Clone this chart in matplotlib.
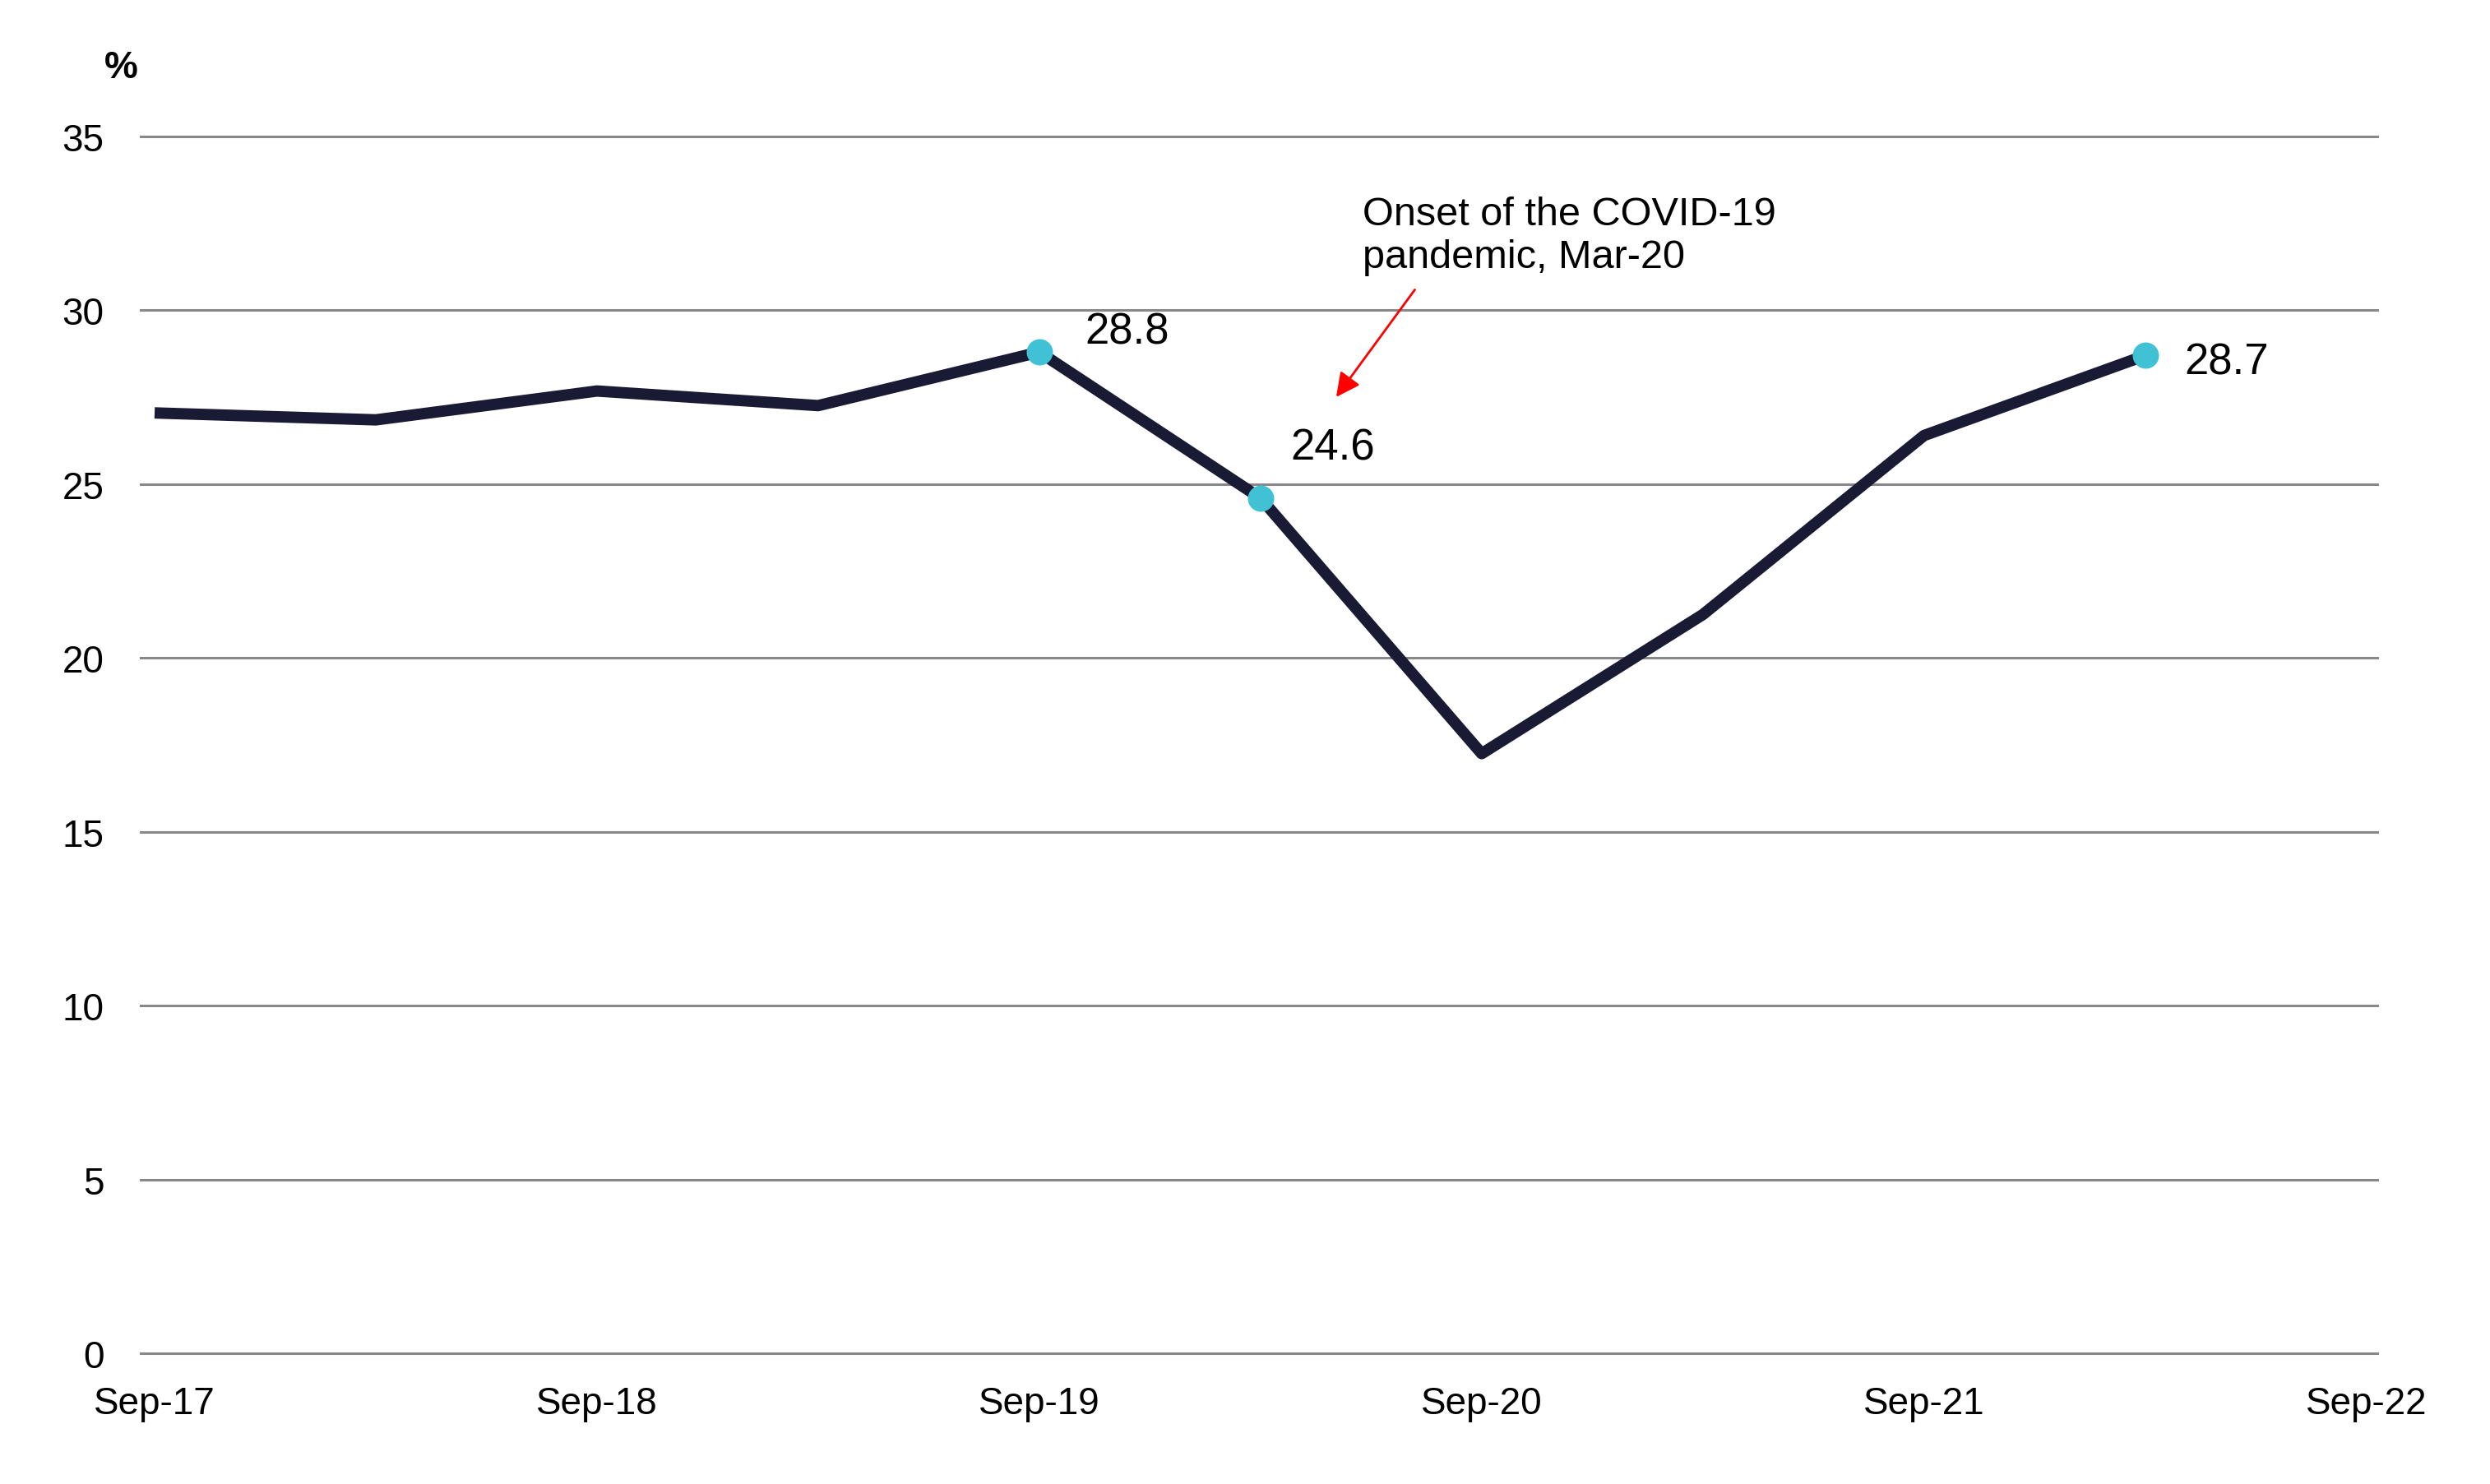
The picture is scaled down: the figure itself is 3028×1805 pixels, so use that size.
import matplotlib
matplotlib.use("Agg")
import matplotlib.pyplot as plt

plt.rcParams['font.family'] = ['Liberation Sans', 'DejaVu Sans']

# half-yearly observations, Sep-17 .. Mar-22
periods = ['Sep-17', 'Mar-18', 'Sep-18', 'Mar-19', 'Sep-19',
           'Mar-20', 'Sep-20', 'Mar-21', 'Sep-21', 'Mar-22']
values = [27.05, 26.85, 27.68, 27.26, 28.8, 24.6, 17.25, 21.25, 26.4, 28.7]
tick_labels = ['Sep-17', 'Sep-18', 'Sep-19', 'Sep-20', 'Sep-21', 'Sep-22']
yticks = [0, 5, 10, 15, 20, 25, 30, 35]
highlight = [4, 5, 9]  # points with markers and labels
label_offsets = {4: (20, 9), 5: (13, 22), 9: (17, -3)}

fig = plt.figure(figsize=(15.14, 9.03), dpi=200)
ax = fig.add_axes([0.0565, 0.088, 0.8983, 0.8195])

x = list(range(len(values)))
ax.plot(x, values, color='#191a33', lw=5.0, solid_joinstyle='round',
        solid_capstyle='butt', zorder=3)
ax.plot([x[i] for i in highlight], [values[i] for i in highlight],
        ls='none', marker='o', ms=10.5, color='#41c1d4', zorder=4)

for i in highlight:
    ax.annotate(f'{values[i]:.1f}', (x[i], values[i]), xytext=label_offsets[i],
                textcoords='offset points', ha='left', va='center', fontsize=19)

ax.annotate('Onset of the COVID-19\npandemic, Mar-20', xy=(5.36, 27.6), xytext=(5.46, 31.0),
            ha='left', va='bottom', fontsize=17.5, linespacing=1.2)
ax.annotate('', xy=(5.33, 27.4), xytext=(5.71, 30.7),
            arrowprops=dict(arrowstyle='-|>', color='red', lw=1.0, mutation_scale=22))

ax.set_xlim(-0.063, 10.05)
ax.set_ylim(0, 35)
ax.set_xticks(range(0, 11, 2))
ax.set_xticklabels(tick_labels)
ax.set_yticks(yticks)
ax.yaxis.grid(True, color='#888888', lw=1.1)
for gl in ax.get_ygridlines():
    gl.set_clip_on(False)
ax.set_axisbelow(True)
for s in ax.spines.values():
    s.set_visible(False)
ax.tick_params(axis='both', length=0, labelsize=16.5)
ax.tick_params(axis='y', pad=16)
ax.tick_params(axis='x', pad=14)

fig.text(147 / 3028, 1 - 83 / 1806, '%', ha='center', va='center',
         fontsize=16.5, fontweight='bold')

fig.savefig('out.png', dpi=200)
